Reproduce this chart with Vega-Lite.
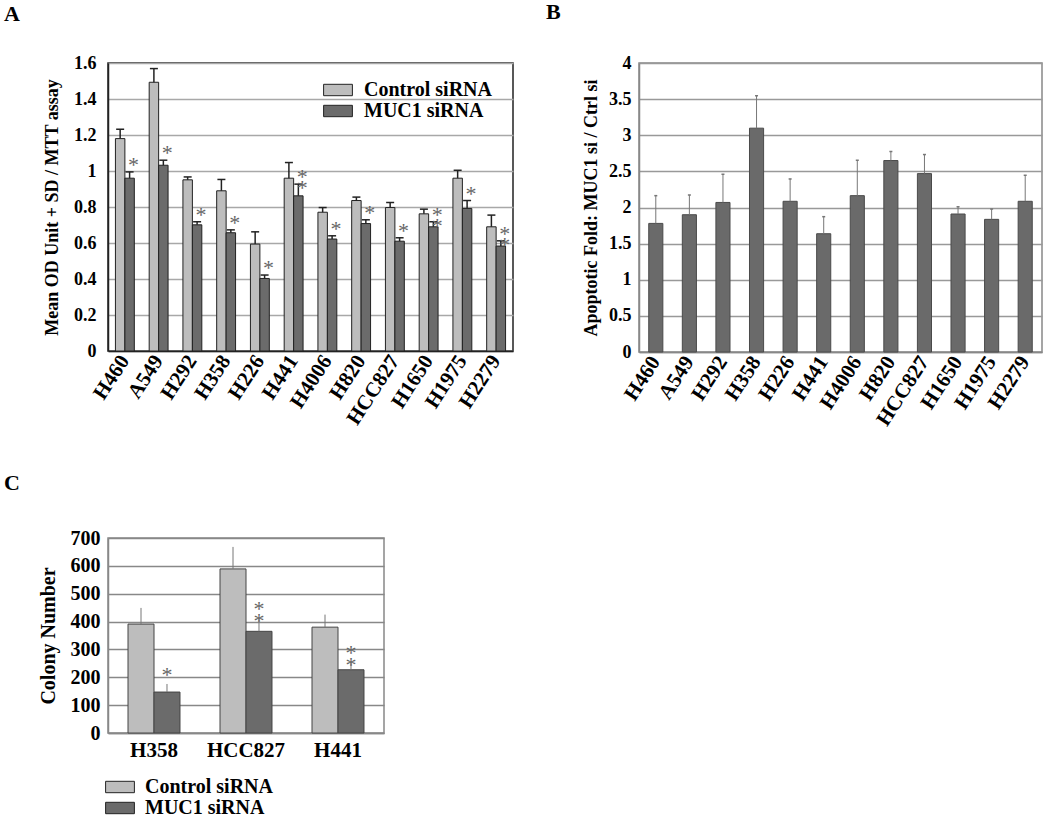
{
  "$schema": "https://vega.github.io/schema/vega-lite/v6.json",
  "background": "white",
  "padding": {"left": 3, "top": 0, "right": 5, "bottom": 5},
  "config": {
    "font": "Liberation Serif",
    "axis": {"labelFont": "Liberation Serif", "titleFont": "Liberation Serif", "labelColor": "black", "titleColor": "black", "labelFontWeight": "bold", "titleFontWeight": "bold", "ticks": false, "labelOverlap": false},
    "title": {"font": "Liberation Serif", "fontWeight": "bold", "fontSize": 22, "color": "black", "anchor": "start", "frame": "group"},
    "legend": {"padding": 0}
  },
  "datasets": {
    "mtt": [
      {"cell": "H460", "group": "Control siRNA", "value": 1.18, "err": 1.232},
      {"cell": "H460", "group": "MUC1 siRNA", "value": 0.96, "err": 0.995, "sig": "*"},
      {"cell": "A549", "group": "Control siRNA", "value": 1.493, "err": 1.569},
      {"cell": "A549", "group": "MUC1 siRNA", "value": 1.032, "err": 1.06, "sig": "*"},
      {"cell": "H292", "group": "Control siRNA", "value": 0.951, "err": 0.967},
      {"cell": "H292", "group": "MUC1 siRNA", "value": 0.701, "err": 0.718, "sig": "*"},
      {"cell": "H358", "group": "Control siRNA", "value": 0.89, "err": 0.953},
      {"cell": "H358", "group": "MUC1 siRNA", "value": 0.657, "err": 0.673, "sig": "*"},
      {"cell": "H226", "group": "Control siRNA", "value": 0.594, "err": 0.662},
      {"cell": "H226", "group": "MUC1 siRNA", "value": 0.403, "err": 0.422, "sig": "*"},
      {"cell": "H441", "group": "Control siRNA", "value": 0.96, "err": 1.047},
      {"cell": "H441", "group": "MUC1 siRNA", "value": 0.862, "err": 0.927, "sig": "*\n*"},
      {"cell": "H4006", "group": "Control siRNA", "value": 0.771, "err": 0.797},
      {"cell": "H4006", "group": "MUC1 siRNA", "value": 0.622, "err": 0.64, "sig": "*"},
      {"cell": "H820", "group": "Control siRNA", "value": 0.836, "err": 0.855},
      {"cell": "H820", "group": "MUC1 siRNA", "value": 0.708, "err": 0.729, "sig": "*"},
      {"cell": "HCC827", "group": "Control siRNA", "value": 0.797, "err": 0.825},
      {"cell": "HCC827", "group": "MUC1 siRNA", "value": 0.61, "err": 0.629, "sig": "*"},
      {"cell": "H1650", "group": "Control siRNA", "value": 0.762, "err": 0.788},
      {"cell": "H1650", "group": "MUC1 siRNA", "value": 0.69, "err": 0.718, "sig": "*\n*"},
      {"cell": "H1975", "group": "Control siRNA", "value": 0.96, "err": 1.004},
      {"cell": "H1975", "group": "MUC1 siRNA", "value": 0.792, "err": 0.836, "sig": "*"},
      {"cell": "H2279", "group": "Control siRNA", "value": 0.69, "err": 0.755},
      {"cell": "H2279", "group": "MUC1 siRNA", "value": 0.583, "err": 0.612, "sig": "*\n*"}
    ],
    "apop": [
      {"cell": "H460", "value": 1.78, "err": 2.164},
      {"cell": "A549", "value": 1.9, "err": 2.173},
      {"cell": "H292", "value": 2.07, "err": 2.46},
      {"cell": "H358", "value": 3.098, "err": 3.547},
      {"cell": "H226", "value": 2.086, "err": 2.395},
      {"cell": "H441", "value": 1.637, "err": 1.873},
      {"cell": "H4006", "value": 2.164, "err": 2.654},
      {"cell": "H820", "value": 2.65, "err": 2.775},
      {"cell": "HCC827", "value": 2.469, "err": 2.733},
      {"cell": "H1650", "value": 1.91, "err": 2.01},
      {"cell": "H1975", "value": 1.836, "err": 1.979},
      {"cell": "H2279", "value": 2.086, "err": 2.446}
    ],
    "colony": [
      {"cell": "H358", "group": "Control siRNA", "value": 391, "err": 449},
      {"cell": "H358", "group": "MUC1 siRNA", "value": 147, "err": 176, "sig": "*"},
      {"cell": "HCC827", "group": "Control siRNA", "value": 589, "err": 668},
      {"cell": "HCC827", "group": "MUC1 siRNA", "value": 365, "err": 413, "sig": "*\n*"},
      {"cell": "H441", "group": "Control siRNA", "value": 380, "err": 425},
      {"cell": "H441", "group": "MUC1 siRNA", "value": 227, "err": 256, "sig": "*\n*"}
    ]
  },
  "resolve": {"scale": {"color": "independent", "x": "independent", "y": "independent", "xOffset": "independent"}, "legend": {"color": "independent"}, "axis": {"x": "independent", "y": "independent"}},
  "spacing": 41,
  "vconcat": [
    {
      "spacing": 126,
      "bounds": "flush",
      "resolve": {"scale": {"color": "independent", "x": "independent", "y": "independent", "xOffset": "independent"}, "legend": {"color": "independent"}, "axis": {"x": "independent", "y": "independent"}},
      "hconcat": [
        {
          "width": 405,
          "height": 288,
          "title": {"text": "A", "dx": -104, "offset": 28},
          "view": {"stroke": "#222", "strokeWidth": 1.5},
          "data": {"name": "mtt"},
          "encoding": {
            "x": {"field": "cell", "type": "nominal", "sort": ["H460", "A549", "H292", "H358", "H226", "H441", "H4006", "H820", "HCC827", "H1650", "H1975", "H2279"], "scale": {"paddingInner": 0.44, "paddingOuter": 0.22}, "axis": {"title": null, "labelAngle": -57, "labelFontSize": 21, "labelPadding": 6, "domainColor": "#222", "domainWidth": 1.5}},
            "xOffset": {"field": "group", "type": "nominal", "sort": ["Control siRNA", "MUC1 siRNA"], "scale": {"paddingInner": 0, "paddingOuter": 0}}
          },
          "layer": [
            {
              "mark": {"type": "bar", "stroke": "#222", "strokeWidth": 1},
              "encoding": {
                "y": {"field": "value", "type": "quantitative", "title": "Mean OD Unit + SD / MTT assay", "scale": {"domain": [0, 1.6]}, "axis": {"values": [0, 0.2, 0.4, 0.6, 0.8, 1, 1.2, 1.4, 1.6], "format": "~g", "labelFontSize": 18, "titleFontSize": 18, "labelPadding": 12, "titlePadding": 12, "gridColor": "#a8a8a8", "gridWidth": 1.5, "domainColor": "#222", "domainWidth": 1.5}},
                "color": {"field": "group", "type": "nominal", "scale": {"domain": ["Control siRNA", "MUC1 siRNA"], "range": ["#bdbdbd", "#6b6b6b"]}, "legend": {"title": null, "orient": "none", "legendX": 220, "legendY": 17, "symbolType": "M-2.4,-0.95H2.4V0.95H-2.4Z", "symbolSize": 144, "symbolStrokeColor": "#222", "symbolStrokeWidth": 1, "symbolOpacity": 1, "labelFontSize": 20, "labelFont": "Liberation Serif", "labelFontWeight": "bold", "labelColor": "black", "rowPadding": 1, "labelOffset": 16}}
              }
            },
            {
              "mark": {"type": "rule", "color": "#222", "strokeWidth": 1.5},
              "encoding": {"y": {"field": "value", "type": "quantitative", "title": "Mean OD Unit + SD / MTT assay", "scale": {"domain": [0, 1.6]}, "axis": {"values": [0, 0.2, 0.4, 0.6, 0.8, 1, 1.2, 1.4, 1.6], "format": "~g", "labelFontSize": 18, "titleFontSize": 18, "labelPadding": 12, "titlePadding": 12, "gridColor": "#a8a8a8", "gridWidth": 1.5, "domainColor": "#222", "domainWidth": 1.5}}, "y2": {"field": "err"}}
            },
            {
              "mark": {"type": "tick", "color": "#222", "size": 8, "thickness": 1.5, "opacity": 1},
              "encoding": {"y": {"field": "err", "type": "quantitative", "title": "Mean OD Unit + SD / MTT assay", "scale": {"domain": [0, 1.6]}, "axis": {"values": [0, 0.2, 0.4, 0.6, 0.8, 1, 1.2, 1.4, 1.6], "format": "~g", "labelFontSize": 18, "titleFontSize": 18, "labelPadding": 12, "titlePadding": 12, "gridColor": "#a8a8a8", "gridWidth": 1.5, "domainColor": "#222", "domainWidth": 1.5}}}
            },
            {
              "transform": [{"filter": "datum.sig"}],
              "mark": {"type": "text", "color": "#666", "fontSize": 22, "font": "Liberation Serif", "baseline": "bottom", "lineBreak": "\n", "lineHeight": 11, "dx": 4, "dy": 5},
              "encoding": {"y": {"field": "err", "type": "quantitative", "title": "Mean OD Unit + SD / MTT assay", "scale": {"domain": [0, 1.6]}, "axis": {"values": [0, 0.2, 0.4, 0.6, 0.8, 1, 1.2, 1.4, 1.6], "format": "~g", "labelFontSize": 18, "titleFontSize": 18, "labelPadding": 12, "titlePadding": 12, "gridColor": "#a8a8a8", "gridWidth": 1.5, "domainColor": "#222", "domainWidth": 1.5}}, "text": {"field": "sig"}}
            }
          ]
        },
        {
          "width": 403,
          "height": 289,
          "title": {"text": "B", "dx": -93, "offset": 30},
          "view": {"stroke": "#888", "strokeWidth": 1.5},
          "data": {"name": "apop"},
          "encoding": {
            "x": {"field": "cell", "type": "nominal", "sort": ["H460", "A549", "H292", "H358", "H226", "H441", "H4006", "H820", "HCC827", "H1650", "H1975", "H2279"], "scale": {"paddingInner": 0.58, "paddingOuter": 0.29}, "axis": {"title": null, "labelAngle": -57, "labelFontSize": 21, "labelPadding": 6, "domainColor": "#888", "domainWidth": 1.5}}
          },
          "layer": [
            {
              "mark": {"type": "bar", "color": "#6a6a6a", "stroke": "#4a4a4a", "strokeWidth": 1},
              "encoding": {"y": {"field": "value", "type": "quantitative", "title": "Apoptotic Fold: MUC1 si / Ctrl si", "scale": {"domain": [0, 4]}, "axis": {"values": [0, 0.5, 1, 1.5, 2, 2.5, 3, 3.5, 4], "format": "~g", "labelFontSize": 18, "titleFontSize": 18, "labelPadding": 8, "titlePadding": 8, "gridColor": "#999", "gridWidth": 1.5, "domainColor": "#888", "domainWidth": 1.5}}}
            },
            {
              "mark": {"type": "rule", "color": "#777", "strokeWidth": 1},
              "encoding": {"y": {"field": "value", "type": "quantitative", "title": "Apoptotic Fold: MUC1 si / Ctrl si", "scale": {"domain": [0, 4]}, "axis": {"values": [0, 0.5, 1, 1.5, 2, 2.5, 3, 3.5, 4], "format": "~g", "labelFontSize": 18, "titleFontSize": 18, "labelPadding": 8, "titlePadding": 8, "gridColor": "#999", "gridWidth": 1.5, "domainColor": "#888", "domainWidth": 1.5}}, "y2": {"field": "err"}}
            },
            {
              "mark": {"type": "tick", "color": "#777", "size": 3, "thickness": 1.5, "opacity": 1},
              "encoding": {"y": {"field": "err", "type": "quantitative", "title": "Apoptotic Fold: MUC1 si / Ctrl si", "scale": {"domain": [0, 4]}, "axis": {"values": [0, 0.5, 1, 1.5, 2, 2.5, 3, 3.5, 4], "format": "~g", "labelFontSize": 18, "titleFontSize": 18, "labelPadding": 8, "titlePadding": 8, "gridColor": "#999", "gridWidth": 1.5, "domainColor": "#888", "domainWidth": 1.5}}}
            }
          ]
        }
      ]
    },
    {
      "width": 276,
      "height": 195,
      "title": {"text": "C", "dx": -104, "offset": 33},
      "view": {"stroke": "#888", "strokeWidth": 1.5},
      "data": {"name": "colony"},
      "encoding": {
        "x": {"field": "cell", "type": "nominal", "sort": ["H358", "HCC827", "H441"], "scale": {"paddingInner": 0.435, "paddingOuter": 0.2175}, "axis": {"title": null, "labelAngle": 0, "labelFontSize": 21, "labelPadding": 6, "domainColor": "#888", "domainWidth": 1.5}},
        "xOffset": {"field": "group", "type": "nominal", "sort": ["Control siRNA", "MUC1 siRNA"], "scale": {"paddingInner": 0, "paddingOuter": 0}}
      },
      "layer": [
        {
          "mark": {"type": "bar", "stroke": "#444", "strokeWidth": 1},
          "encoding": {
            "y": {"field": "value", "type": "quantitative", "title": "Colony Number", "scale": {"domain": [0, 700]}, "axis": {"values": [0, 100, 200, 300, 400, 500, 600, 700], "labelFontSize": 20, "titleFontSize": 20, "labelPadding": 8, "titlePadding": 12, "gridColor": "#888", "gridWidth": 1.5, "domainColor": "#888", "domainWidth": 1.5}},
            "color": {"field": "group", "type": "nominal", "scale": {"domain": ["Control siRNA", "MUC1 siRNA"], "range": ["#bdbdbd", "#6b6b6b"]}, "legend": {"title": null, "orient": "none", "legendX": 2, "legendY": 239, "symbolType": "M-2.4,-0.95H2.4V0.95H-2.4Z", "symbolSize": 144, "symbolStrokeColor": "#222", "symbolStrokeWidth": 1, "symbolOpacity": 1, "labelFontSize": 20, "labelFont": "Liberation Serif", "labelFontWeight": "bold", "labelColor": "black", "rowPadding": 1, "labelOffset": 15}}
          }
        },
        {
          "mark": {"type": "rule", "color": "#777", "strokeWidth": 1},
          "encoding": {"y": {"field": "value", "type": "quantitative", "title": "Colony Number", "scale": {"domain": [0, 700]}, "axis": {"values": [0, 100, 200, 300, 400, 500, 600, 700], "labelFontSize": 20, "titleFontSize": 20, "labelPadding": 8, "titlePadding": 12, "gridColor": "#888", "gridWidth": 1.5, "domainColor": "#888", "domainWidth": 1.5}}, "y2": {"field": "err"}}
        },
        {
          "transform": [{"filter": "datum.sig"}],
          "mark": {"type": "text", "color": "#666", "fontSize": 22, "font": "Liberation Serif", "baseline": "bottom", "lineBreak": "\n", "lineHeight": 12, "dy": 3},
          "encoding": {"y": {"field": "err", "type": "quantitative", "title": "Colony Number", "scale": {"domain": [0, 700]}, "axis": {"values": [0, 100, 200, 300, 400, 500, 600, 700], "labelFontSize": 20, "titleFontSize": 20, "labelPadding": 8, "titlePadding": 12, "gridColor": "#888", "gridWidth": 1.5, "domainColor": "#888", "domainWidth": 1.5}}, "text": {"field": "sig"}}
        }
      ]
    }
  ]
}
